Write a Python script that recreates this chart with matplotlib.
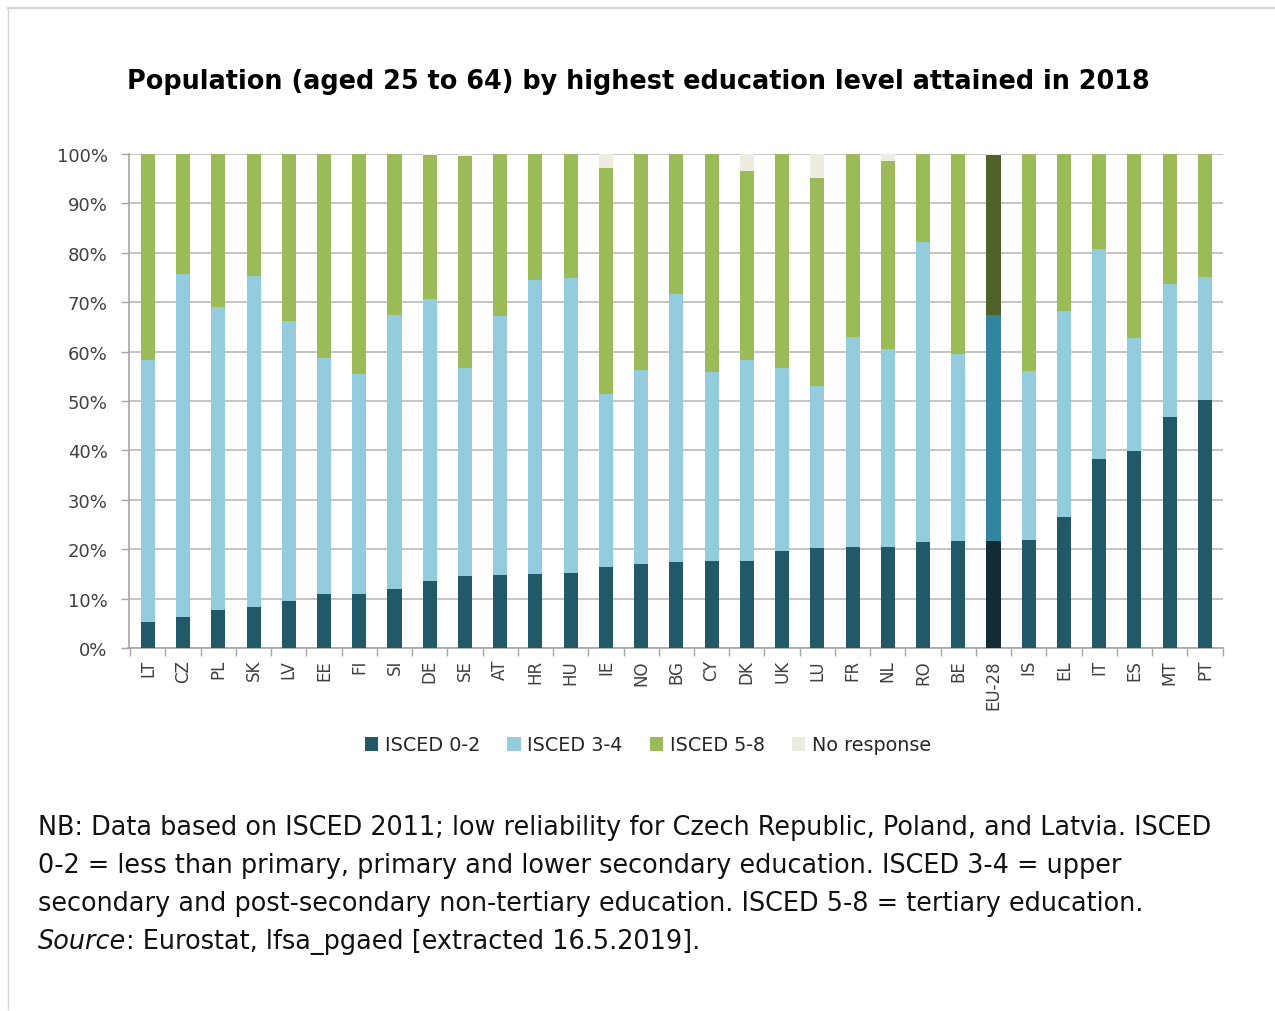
import numpy as np
import matplotlib
matplotlib.use("Agg")
import matplotlib.pyplot as plt
from matplotlib.lines import Line2D
from matplotlib.patches import Patch

countries = ["LT", "CZ", "PL", "SK", "LV", "EE", "FI", "SI", "DE", "SE", "AT", "HR", "HU", "IE",
             "NO", "BG", "CY", "DK", "UK", "LU", "FR", "NL", "RO", "BE", "EU-28", "IS", "EL",
             "IT", "ES", "MT", "PT"]

# shares in % of population aged 25-64
isced_0_2 = [5.3, 6.2, 7.7, 8.4, 9.6, 10.9, 10.9, 11.9, 13.6, 14.5, 14.7, 15.0, 15.2, 16.3,
             17.0, 17.5, 17.7, 17.7, 19.6, 20.3, 20.5, 20.5, 21.5, 21.7, 21.7, 21.9, 26.5,
             38.3, 39.9, 46.8, 50.3]
isced_3_4 = [52.9, 69.5, 61.4, 67.0, 56.5, 47.8, 44.6, 55.5, 57.1, 42.2, 52.5, 59.5, 59.6, 35.1,
             39.3, 54.2, 38.2, 40.5, 37.1, 32.8, 42.5, 40.1, 60.7, 37.8, 45.8, 34.2, 41.8,
             42.5, 22.9, 26.9, 24.8]
isced_5_8 = [41.8, 24.3, 30.9, 24.6, 33.9, 41.3, 44.5, 32.6, 29.1, 42.9, 32.8, 25.5, 25.2, 45.8,
             43.7, 28.3, 44.1, 38.4, 43.2, 42.0, 36.9, 37.9, 17.8, 40.5, 32.3, 43.9, 31.7,
             19.2, 37.2, 26.3, 24.9]
no_response = [0, 0, 0, 0, 0, 0, 0, 0, 0.2, 0.4, 0, 0, 0, 2.8,
               0, 0, 0, 3.4, 0.1, 4.9, 0.1, 1.5, 0, 0, 0.2, 0, 0,
               0, 0, 0, 0]

series_names = ["ISCED 0-2", "ISCED 3-4", "ISCED 5-8", "No response"]
colors = ["#215968", "#93CDDD", "#9BBB59", "#EEECE1"]
eu_colors = ["#132C33", "#31859C", "#4F6228", "#EEECE1"]

W, H = 1275, 1012
fig = plt.figure(figsize=(W / 100, H / 100), dpi=100)
ax = fig.add_axes([128.5 / W, 1 - 649 / H, (1222.5 - 128.5) / W, (649 - 155) / H])

x = np.arange(len(countries))
bottom = np.zeros(len(countries))
for vals, col, eucol in zip([isced_0_2, isced_3_4, isced_5_8, no_response], colors, eu_colors):
    v = np.array(vals) / 100.0
    cols = [eucol if c == "EU-28" else col for c in countries]
    ax.bar(x, v, bottom=bottom, width=0.4, color=cols, linewidth=0, zorder=3)
    bottom += v

ax.set_ylim(0, 1)
ax.set_xlim(-0.55, len(countries) - 0.5)
ax.set_yticks(np.arange(0, 1.01, 0.1))
ax.set_yticklabels([f"{int(round(t * 100))}%" for t in np.arange(0, 1.01, 0.1)])
ax.grid(axis="y", color="#BFBFBF", linewidth=1.3, zorder=0)
ax.set_axisbelow(True)

ax.set_xticks(x)
ax.set_xticklabels(countries, rotation=90)
ax.set_xticks(np.arange(-0.5, len(countries)), minor=True)
ax.tick_params(axis="x", which="major", length=0, pad=8, labelsize=12, labelcolor="#404040")
ax.tick_params(axis="x", which="minor", length=6, color="#A6A6A6", width=1)
ax.tick_params(axis="y", length=6, color="#A6A6A6", width=1, pad=9,
               labelsize=13, labelcolor="#404040")
for lbl in ax.get_xticklabels():
    lbl.set_va("top")

for s in ["top", "right"]:
    ax.spines[s].set_visible(False)
ax.spines["left"].set_color("#A6A6A6")
ax.spines["bottom"].set_color("#A6A6A6")
ax.spines["left"].set_linewidth(1.2)
ax.spines["bottom"].set_linewidth(1.2)

fig.text(638 / W, 1 - 82 / H,
         "Population (aged 25 to 64) by highest education level attained in 2018",
         ha="center", va="center", fontsize=18.4, fontweight="bold", color="#000000")

handles = [Patch(facecolor=c, edgecolor="none") for c in colors]
fig.legend(handles, series_names, loc="center", bbox_to_anchor=(648 / W, 1 - 746 / H),
           ncol=4, frameon=False, fontsize=13.8, handlelength=0.7, handleheight=0.7,
           handletextpad=0.35, columnspacing=1.4, labelcolor="#262626")

notes = [
    "NB: Data based on ISCED 2011; low reliability for Czech Republic, Poland, and Latvia. ISCED",
    "0-2 = less than primary, primary and lower secondary education. ISCED 3-4 = upper",
    "secondary and post-secondary non-tertiary education. ISCED 5-8 = tertiary education.",
]
for i, line in enumerate(notes):
    fig.text(38 / W, 1 - (828 + 38 * i) / H, line, ha="left", va="center",
             fontsize=18.4, color="#111111")
src = fig.text(38 / W, 1 - 942 / H, "Source", ha="left", va="center",
               fontsize=18.4, style="italic", color="#111111")
plt.annotate(": Eurostat, lfsa_pgaed [extracted 16.5.2019].", xy=(1, 0.5),
             xycoords=src, ha="left", va="center", fontsize=18.4, color="#111111",
             annotation_clip=False)

# thin page frame
fig.add_artist(Line2D([8 / W, 1], [1 - 9 / H, 1 - 9 / H], transform=fig.transFigure,
                      color="#D4D4D4", linewidth=1.6))
fig.add_artist(Line2D([8 / W, 8 / W], [1 - 9 / H, 1 - 1010 / H], transform=fig.transFigure,
                      color="#D4D4D4", linewidth=1.0))

fig.savefig("out.png", dpi=100, facecolor="white")
